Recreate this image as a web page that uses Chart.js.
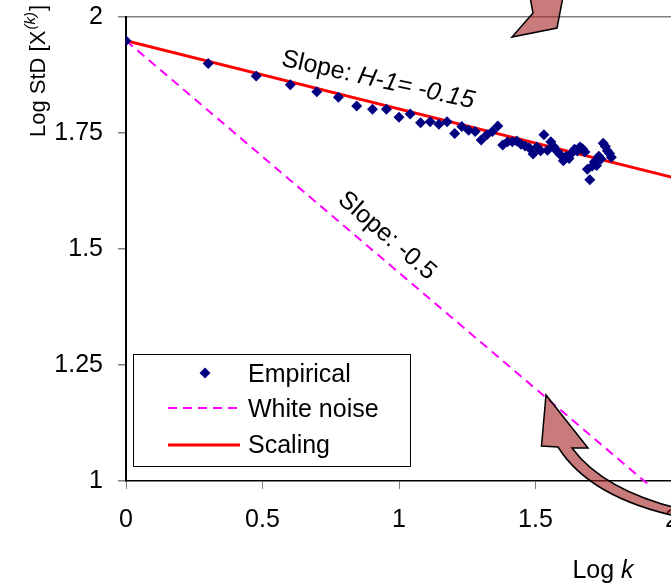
<!DOCTYPE html>
<html>
<head>
<meta charset="utf-8">
<script src="https://cdn.jsdelivr.net/npm/chart.js@4.4.0/dist/chart.umd.min.js"></script>
<style>
  html, body { margin: 0; padding: 0; overflow: hidden; background: #fff; }
  #wrap { width: 830px; height: 583px; }
  canvas { display: block; }
</style>
</head>
<body>
<div id="wrap"><canvas id="chart" width="830" height="583"></canvas></div>
<script>
// log k for k = 1..60 and the measured log standard deviation
const logK = [0, 0.301, 0.477, 0.602, 0.699, 0.778, 0.845, 0.903, 0.954, 1,
  1.041, 1.079, 1.114, 1.146, 1.176, 1.204, 1.23, 1.255, 1.279, 1.301,
  1.322, 1.342, 1.362, 1.38, 1.398, 1.415, 1.431, 1.447, 1.462, 1.477,
  1.491, 1.505, 1.519, 1.531, 1.544, 1.556, 1.568, 1.58, 1.591, 1.602,
  1.613, 1.623, 1.633, 1.643, 1.653, 1.663, 1.672, 1.681, 1.69, 1.699,
  1.708, 1.716, 1.724, 1.732, 1.74, 1.748, 1.756, 1.763, 1.771, 1.778];
const logStd = [1.949, 1.900, 1.873, 1.854, 1.839, 1.827, 1.808, 1.801, 1.801, 1.784,
  1.791, 1.772, 1.774, 1.769, 1.774, 1.749, 1.764, 1.756, 1.753, 1.735,
  1.746, 1.753, 1.765, 1.724, 1.731, 1.731, 1.733, 1.726, 1.722, 1.718,
  1.705, 1.720, 1.712, 1.746, 1.713, 1.731, 1.720, 1.710, 1.703, 1.690,
  1.700, 1.695, 1.707, 1.715, 1.711, 1.720, 1.716, 1.709, 1.672, 1.649,
  1.679, 1.688, 1.680, 1.700, 1.694, 1.728, 1.721, 1.712, 1.706, 1.698];

// straight reference lines (end points)
const whiteNoiseX = [0, 2];
const whiteNoiseY = [1.949, 0.949];
const scalingX = [0, 2.5];
const scalingY = [1.949, 1.581];

const xTicks = [0, 0.5, 1, 1.5, 2, 2.5];
const yTicks = [1, 1.25, 1.5, 1.75, 2];
const seriesNames = ['Empirical', 'White noise', 'Scaling'];

const FONT = "'Liberation Sans', Arial, sans-serif";

const toPoints = (xs, ys) => xs.map((v, i) => ({ x: v, y: ys[i] }));

// scales should not push the plot area in, layout.padding decides it
function noScalePadding(s) {
  s.paddingTop = 0;
  s.paddingBottom = 0;
  s.paddingLeft = 0;
  s.paddingRight = 0;
}

const overlay = {
  id: 'overlay',
  afterDraw(chart) {
    const { ctx, chartArea: a, scales: { x, y } } = chart;
    const ds = chart.data.datasets;
    ctx.save();

    // slope labels
    ctx.fillStyle = '#000';
    ctx.textBaseline = 'middle';
    ctx.save();
    ctx.translate(x.getPixelForValue(0.923), y.getPixelForValue(1.864));
    ctx.rotate(12.5 * Math.PI / 180);
    ctx.font = 'italic 25px ' + FONT;
    const w2 = ctx.measureText('H-1= -0.15').width;
    ctx.font = '25px ' + FONT;
    const w1 = ctx.measureText('Slope: ').width;
    ctx.textAlign = 'left';
    ctx.fillText('Slope: ', -(w1 + w2) / 2, 0);
    ctx.font = 'italic 25px ' + FONT;
    ctx.fillText('H-1= -0.15', -(w1 + w2) / 2 + w1, 0);
    ctx.restore();

    ctx.save();
    ctx.translate(x.getPixelForValue(0.956), y.getPixelForValue(1.528));
    ctx.rotate(41 * Math.PI / 180);
    ctx.textAlign = 'center';
    ctx.font = '25px ' + FONT;
    ctx.fillText('Slope: -0.5', 0, 0);
    ctx.restore();

    // legend
    const lx = a.left + 7, ly = a.bottom - 127;
    ctx.fillStyle = '#fff';
    ctx.fillRect(lx, ly, 277, 112);
    ctx.strokeStyle = '#000';
    ctx.lineWidth = 1;
    ctx.strokeRect(lx + 0.5, ly + 0.5, 277, 112);
    const mids = [19, 54, 91];
    const bases = [28, 63, 99];
    ctx.font = '25px ' + FONT;
    ctx.textAlign = 'left';
    ctx.textBaseline = 'alphabetic';
    seriesNames.forEach((name, i) => {
      const d = ds[i];
      const cy = ly + mids[i];
      if (i === 0) {
        const cx = lx + 72, r = 5.5;
        ctx.fillStyle = d.backgroundColor;
        ctx.beginPath();
        ctx.moveTo(cx, cy - r); ctx.lineTo(cx + r, cy);
        ctx.lineTo(cx, cy + r); ctx.lineTo(cx - r, cy);
        ctx.closePath();
        ctx.fill();
      } else {
        ctx.strokeStyle = d.borderColor;
        ctx.lineWidth = d.borderWidth;
        ctx.setLineDash(d.borderDash || []);
        ctx.beginPath();
        ctx.moveTo(lx + 35, cy);
        ctx.lineTo(lx + 107, cy);
        ctx.stroke();
        ctx.setLineDash([]);
      }
      ctx.fillStyle = '#000';
      ctx.fillText(name, lx + 115, ly + bases[i]);
    });

    // axis titles
    ctx.font = '25px ' + FONT;
    const lw = ctx.measureText('Log ').width;
    ctx.font = 'italic 25px ' + FONT;
    const kw = ctx.measureText('k').width;
    const tx = a.left + 477 - (lw + kw) / 2;
    ctx.font = '25px ' + FONT;
    ctx.fillText('Log ', tx, 578);
    ctx.font = 'italic 25px ' + FONT;
    ctx.fillText('k', tx + lw, 578);

    ctx.save();
    ctx.translate(45, 137);
    ctx.rotate(-Math.PI / 2);
    ctx.font = '22px ' + FONT;
    ctx.fillText('Log StD [X', 0, 0);
    let off = ctx.measureText('Log StD [X').width;
    ctx.font = 'italic 15px ' + FONT;
    ctx.fillText('(k)', off + 1, -10);
    off += ctx.measureText('(k)').width + 2;
    ctx.font = '22px ' + FONT;
    ctx.fillText(']', off, 0);
    ctx.restore();

    // callout arrows
    ctx.fillStyle = 'rgba(165, 33, 33, 0.6)';
    ctx.strokeStyle = '#000';
    ctx.lineWidth = 1.5;
    ctx.beginPath();
    ctx.moveTo(530, -3);
    ctx.lineTo(533, 13);
    ctx.lineTo(512, 37);
    ctx.lineTo(557, 28);
    ctx.lineTo(563, -3);
    ctx.closePath();
    ctx.fill();
    ctx.stroke();

    ctx.beginPath();
    ctx.moveTo(546, 395);
    ctx.lineTo(541.5, 446);
    ctx.lineTo(558, 447);
    ctx.quadraticCurveTo(590, 498, 680, 517);
    ctx.lineTo(680, 509);
    ctx.quadraticCurveTo(603, 490, 572, 448);
    ctx.lineTo(588, 448);
    ctx.closePath();
    ctx.fill();
    ctx.stroke();

    ctx.restore();
  }
};

new Chart(document.getElementById('chart'), {
  type: 'scatter',
  data: {
    datasets: [
      {
        label: seriesNames[0],
        data: toPoints(logK, logStd),
        backgroundColor: '#000080',
        borderColor: '#000080',
        borderWidth: 0,
        pointStyle: 'rectRot',
        pointRadius: 5.5,
        showLine: false
      },
      {
        label: seriesNames[1],
        data: toPoints(whiteNoiseX, whiteNoiseY),
        borderColor: '#FF00FF',
        backgroundColor: '#FF00FF',
        borderWidth: 2,
        borderDash: [9, 6],
        pointRadius: 0,
        showLine: true,
        clip: { left: 2, top: 2, right: 2, bottom: 5 }
      },
      {
        label: seriesNames[2],
        data: toPoints(scalingX, scalingY),
        borderColor: '#FF0000',
        backgroundColor: '#FF0000',
        borderWidth: 3,
        pointRadius: 0,
        showLine: true
      }
    ]
  },
  options: {
    responsive: false,
    animation: false,
    events: [],
    layout: { padding: { top: 17, right: 21.5, bottom: 0, left: 0 } },
    plugins: {
      legend: { display: false },
      tooltip: { enabled: false }
    },
    scales: {
      x: {
        type: 'linear',
        min: 0,
        max: 2.5,
        afterBuildTicks: s => { s.ticks = xTicks.map(v => ({ value: v })); },
        afterFit: s => { s.height = 102; noScalePadding(s); },
        border: { color: '#000', width: 1.5 },
        grid: { drawOnChartArea: false, tickLength: 8, tickColor: '#808080' },
        ticks: {
          color: '#000',
          font: { family: FONT, size: 25 },
          padding: 16,
          maxRotation: 0,
          callback: v => String(v)
        }
      },
      y: {
        type: 'linear',
        min: 1,
        max: 2,
        afterBuildTicks: s => { s.ticks = yTicks.map(v => ({ value: v })); },
        afterFit: s => { s.width = 126; noScalePadding(s); },
        border: { color: '#000', width: 2 },
        grid: {
          color: c => (c.tick && c.tick.value === 2 ? '#808080' : 'rgba(0,0,0,0)'),
          lineWidth: 1.5,
          tickLength: 8,
          tickColor: '#808080'
        },
        ticks: {
          color: '#000',
          font: { family: FONT, size: 25 },
          padding: 15,
          callback: v => String(v)
        }
      }
    }
  },
  plugins: [overlay]
});
</script>
</body>
</html>
